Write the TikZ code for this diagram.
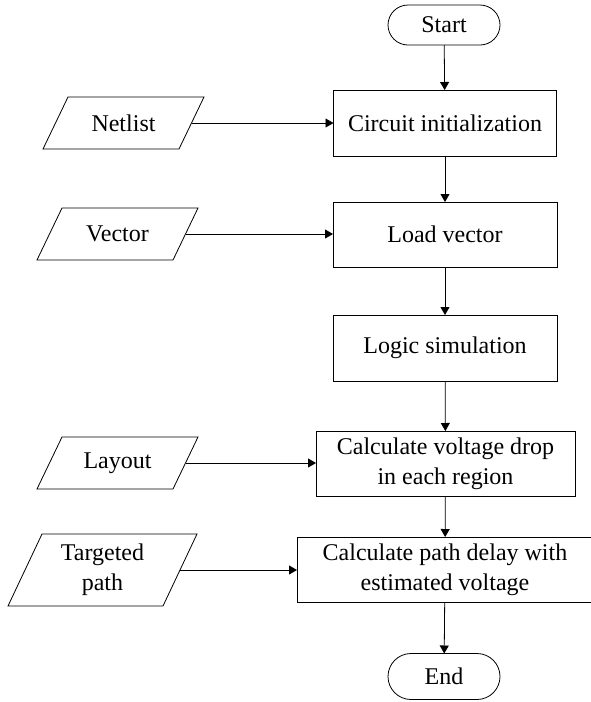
\documentclass[tikz,border=0pt]{standalone}
\usepackage{fontspec}
\setmainfont{Liberation Serif}
\usetikzlibrary{arrows.meta}
\tikzset{>={Triangle[length=8pt,width=9pt]}}
\tikzset{
  proc/.style={draw, line width=0.8pt, inner sep=0pt, outer sep=0pt, align=center,
    font=\fontsize{24}{30}\selectfont, minimum height=65pt},
  term/.style={proc, minimum width=112pt},
  io/.style={inner sep=0pt, outer sep=0pt, align=center,
    font=\fontsize{24}{30}\selectfont, minimum width=136pt, minimum height=52pt},
  flow/.style={->, line width=0.8pt}
}

\begin{document}
\begin{tikzpicture}[x=1pt, y=-1pt]
\useasboundingbox (0,0) rectangle (590,702);
\node[term, rounded corners=20pt, minimum height=40pt] (start) at (444,25) {Start};
\node[proc, minimum width=223pt, minimum height=66pt] (init) at (445,123) {Circuit initialization};
\node[proc, minimum width=224pt] (load) at (445,234.5) {Load vector};
\node[proc, minimum width=224pt, minimum height=66pt] (logic) at (445,348) {Logic simulation};
\node[proc, minimum width=259pt] (drop) at (445.5,463.5) {Calculate voltage drop\\in each region};
\node[proc, minimum width=296pt] (delay) at (445,569.5) {Calculate path delay with\\estimated voltage};
\node[term, rounded corners=23pt, minimum height=46pt] (stop) at (444,676.5) {End};

% inputs (parallelograms drawn around the text nodes)
\node[io] (net) at (123.5,123) {Netlist};
\node[io] (vec) at (117.5,234) {Vector};
\node[io] (lay) at (117.5,463) {Layout};
\node[io, minimum width=155pt, minimum height=72pt] (tgt) at (102.5,570) {Targeted\\path};
\foreach \n/\s in {net/12.5, vec/12.5, lay/12.5, tgt/17}
  \draw[line width=0.8pt] ([xshift=\s pt]\n.north west) -- ([xshift=\s pt]\n.north east)
    -- ([xshift=-\s pt]\n.south east) -- ([xshift=-\s pt]\n.south west) -- cycle;

\draw[flow] (start) -- (init);
\draw[flow] (init) -- (load);
\draw[flow] (load) -- (logic);
\draw[flow] (logic) -- (drop);
\draw[flow] (drop) -- (delay);
\draw[flow] (delay) -- (stop);

\draw[flow] (net.east) -- (net.east -| init.west);
\draw[flow] (vec.east) -- (vec.east -| load.west);
\draw[flow] (lay.east) -- (lay.east -| drop.west);
\draw[flow] (tgt.east) -- (tgt.east -| delay.west);
\end{tikzpicture}
\end{document}
